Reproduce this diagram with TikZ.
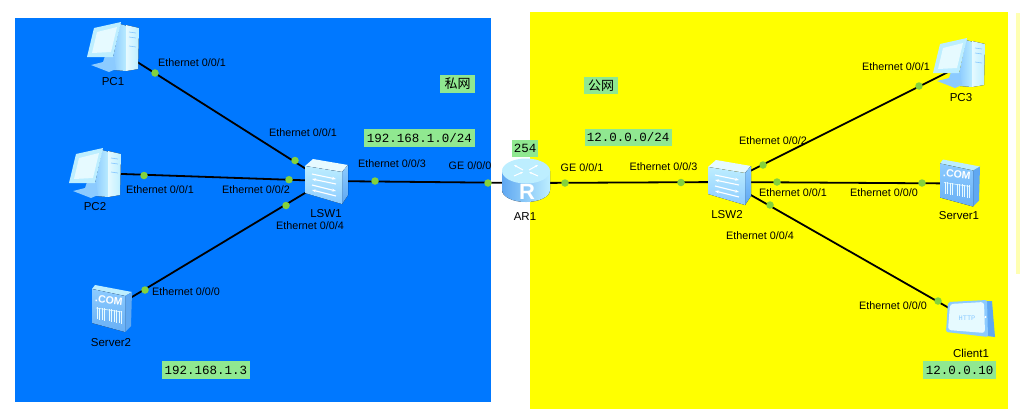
\documentclass[tikz,border=0pt]{standalone}
\usepackage{fontspec}
\setmainfont{Liberation Sans}
\setmonofont{Liberation Mono}
\newfontfamily\cjk{Noto Sans CJK SC}
\usetikzlibrary{arrows.meta}
\definecolor{privblue}{HTML}{0078FF}
\definecolor{pubyellow}{HTML}{FFFF00}
\definecolor{notegreen}{HTML}{90E890}
\definecolor{dotgreen}{HTML}{84D23C}
\definecolor{iconpale}{HTML}{E6FAFF}
\definecolor{iconlight}{HTML}{BDEEFF}
\definecolor{iconmid}{HTML}{8CCBFF}
\definecolor{icondeep}{HTML}{5FA8F2}
\tikzset{
	device/.style={circle,inner sep=0pt,minimum size=12pt},
	link/.style={draw=black,line width=1.8pt},
	portdot/.style={circle,fill=dotgreen,inner sep=0pt,minimum size=7.5pt},
	portlabel/.style={font=\fontsize{10.8}{12}\selectfont,inner sep=0pt},
	devlabel/.style={font=\fontsize{11.5}{13}\selectfont,inner sep=0pt},
	netlabel/.style={fill=notegreen,font=\ttfamily\fontsize{12.5}{14}\selectfont,inner sep=0pt,anchor=center},
	pcicon/.pic={
		\fill[left color=iconmid,right color=iconlight] (8,-22) -- (15,-20) -- (14,25) -- (2,24) -- (1,12) -- cycle;
		\fill[left color=iconpale,right color=iconlight] (14,-21) -- (27,-18) -- (26,23) -- (14,25) -- cycle;
		\draw[iconmid,line width=.7pt] (17,-14) -- (24,-13) (17,-9) -- (24,-8) (17,0) -- (24,1);
		\fill[iconmid] (-21,19) -- (-9,16) -- (-7,10) -- (2,10) -- (4,23) -- (-3,26) -- cycle;
		\fill[iconlight] (-18,-18) -- (9,-24) -- (1,11) -- (-25,11) -- cycle;
		\fill[iconpale] (-15,-14) -- (5,-19) -- (-1,6) -- (-20,7) -- cycle;
	},
	switchicon/.pic={
		\fill[iconpale] (-20,-15) -- (-12,-22) -- (23,-16) -- (17,-9) -- cycle;
		\fill[top color=iconmid,bottom color=icondeep] (17,-9) -- (23,-16) -- (23,14) -- (17,23) -- cycle;
		\fill[top color=iconlight,bottom color=iconmid] (-20,-15) -- (17,-9) -- (17,23) -- (-20,12) -- cycle;
		\draw[white,line width=1.1pt,-{Stealth[length=4pt]}] (-13,-7) -- (11,-2);
		\draw[white,line width=1.1pt,-{Stealth[length=4pt]}] (11,3) -- (-13,-2);
		\draw[white,line width=1.1pt,-{Stealth[length=4pt]}] (-13,4) -- (11,10);
		\draw[white,line width=1.1pt,-{Stealth[length=4pt]}] (11,15) -- (-13,9);
	},
	routericon/.pic={
		\fill[left color=icondeep,right color=iconlight] (-24,-12) -- (-24,7) arc[start angle=180,end angle=0,x radius=24,y radius=12] -- (24,-12) -- cycle;
		\fill[iconlight] (0,-12) ellipse[x radius=24,y radius=12.5];
		\draw[white,line width=1pt,-{Stealth[length=3pt]}] (-3,-13) -- (-12,-18);
		\draw[white,line width=1pt,-{Stealth[length=3pt]}] (3,-13) -- (12,-18);
		\draw[white,line width=1pt,-{Stealth[length=3pt]}] (-12,-7) -- (-3,-11);
		\draw[white,line width=1pt,-{Stealth[length=3pt]}] (12,-7) -- (3,-11);
		\node[white,font=\bfseries\fontsize{22}{22}\selectfont,inner sep=0pt] (letter) at (1,9) {R};
	},
	servericon/.pic={
		\fill[iconlight] (-20,-20) -- (-17,-24) -- (20,-17) -- (13,-13) -- cycle;
		\fill[icondeep] (13,-13) -- (20,-17) -- (19,17) -- (13,23) -- cycle;
		\fill[top color=iconmid,bottom color=icondeep!80!iconmid] (-20,-20) -- (13,-13) -- (13,23) -- (-20,14) -- cycle;
		\node[white,font=\bfseries\fontsize{10.5}{11}\selectfont,inner sep=0pt,rotate=-7] (name) at (-3,-9) {.COM};
		\draw[iconpale,line width=.6pt] (-16,-1) -- (10,3);
		\foreach \x in {-15,-12.5,-10,-7.5,-3,-.5,2,4.5,7,9.5}
			\draw[iconpale,line width=.7pt] (\x,.5+.15*\x) -- (\x,13+.2*\x);
	},
	clienticon/.pic={
		\fill[icondeep] (14,-19) -- (22,-19) -- (25,17) -- (17,16) -- cycle;
		\fill[rounded corners=2pt,iconmid] (-22,-18) -- (17,-20) -- (18,17) -- (-24,12) -- cycle;
		\fill[rounded corners=3pt,iconpale] (-20,-16) -- (14,-18) -- (15,13) -- (-22,10) -- cycle;
		\node[iconmid,font=\ttfamily\fontsize{7}{8}\selectfont,inner sep=0pt] (name) at (-3,-2) {HTTP};
		\fill[white] (15.5,-3) circle[radius=1.2];
	}
}
\begin{document}
\begin{tikzpicture}[x=1pt,y=-1pt]
	\useasboundingbox (0,0) rectangle (1020,413);
	% zones
	\fill[privblue] (14.5,18) rectangle (490.5,402);
	\fill[pubyellow] (529.7,12) rectangle (1007.7,409);
	\fill[pubyellow!30] (1016,13) rectangle (1019.5,274);

	% devices
	\node[device] (PC1) at (112,46) {};
	\node[device] (PC2) at (94,173) {};
	\node[device] (PC3) at (958,62) {};
	\node[device] (Server2) at (112,309) {};
	\node[device] (Server1) at (960,183.5) {};
	\node[device] (Client1) at (970,320) {};
	\node[device] (LSW1) at (325,181) {};
	\node[device] (LSW2) at (728,182) {};
	\node[device] (AR1) at (526,183) {};

	% links
	\draw[link] (PC1) -- (LSW1);
	\draw[link] (PC2) -- (LSW1);
	\draw[link] (Server2) -- (LSW1);
	\draw[link] (LSW1) -- (AR1);
	\draw[link] (AR1) -- (LSW2);
	\draw[link] (LSW2) -- ([yshift=-5pt]PC3.center);
	\draw[link] (LSW2) -- (Server1);
	\draw[link] (LSW2) -- (Client1);

	% port dots
	\node[portdot] (dotA) at (155,73) {};
	\node[portdot] (dotB) at (295,160.5) {};
	\node[portdot] (dotC) at (144,175.5) {};
	\node[portdot] (dotD) at (289,179.7) {};
	\node[portdot] (dotE) at (145,290) {};
	\node[portdot] (dotF) at (286,205.5) {};
	\node[portdot] (dotG) at (375,181) {};
	\node[portdot] (dotH) at (488,183) {};
	\node[portdot] (dotI) at (565,183) {};
	\node[portdot] (dotJ) at (681,182.5) {};
	\node[portdot] (dotK) at (763,165) {};
	\node[portdot] (dotL) at (919,86) {};
	\node[portdot] (dotM) at (777,182) {};
	\node[portdot] (dotN) at (922,183) {};
	\node[portdot] (dotO) at (770,205) {};
	\node[portdot] (dotP) at (938,301) {};

	% icons
	\pic (iconA) at (PC1) {pcicon};
	\pic (iconB) at ([yshift=1pt]PC2.center) {pcicon};
	\pic (iconC) at (PC3) {pcicon};
	\pic (iconD) at (Server2) {servericon};
	\pic (iconE) at (Server1) {servericon};
	\pic (iconF) at (Client1) {clienticon};
	\pic (iconG) at (LSW1) {switchicon};
	\pic (iconH) at (LSW2) {switchicon};
	\pic (iconI) at (AR1) {routericon};

	% device names
	\node[devlabel] (namePC1) at (113,82) {PC1};
	\node[devlabel] (namePC2) at (95,207) {PC2};
	\node[devlabel] (namePC3) at (961,98) {PC3};
	\node[devlabel] (nameS2) at (111,343) {Server2};
	\node[devlabel] (nameS1) at (959,216) {Server1};
	\node[devlabel] (nameC1) at (971,353) {Client1};
	\node[devlabel] (nameSW1) at (326,214) {LSW1};
	\node[devlabel] (nameSW2) at (727,215) {LSW2};
	\node[devlabel] (nameR1) at (525,217) {AR1};

	% port names
	\node[portlabel] (portA) at (192,63) {Ethernet 0/0/1};
	\node[portlabel] (portB) at (303,133) {Ethernet 0/0/1};
	\node[portlabel] (portC) at (160,190) {Ethernet 0/0/1};
	\node[portlabel] (portD) at (256,190) {Ethernet 0/0/2};
	\node[portlabel] (portE) at (186,292) {Ethernet 0/0/0};
	\node[portlabel] (portF) at (310,226) {Ethernet 0/0/4};
	\node[portlabel] (portG) at (392,164) {Ethernet 0/0/3};
	\node[portlabel] (portH) at (470,166) {GE 0/0/0};
	\node[portlabel] (portI) at (582,168) {GE 0/0/1};
	\node[portlabel] (portJ) at (663.5,167) {Ethernet 0/0/3};
	\node[portlabel] (portK) at (773,141) {Ethernet 0/0/2};
	\node[portlabel] (portL) at (896,67) {Ethernet 0/0/1};
	\node[portlabel] (portM) at (793,193) {Ethernet 0/0/1};
	\node[portlabel] (portN) at (884,193) {Ethernet 0/0/0};
	\node[portlabel] (portO) at (760,236) {Ethernet 0/0/4};
	\node[portlabel] (portP) at (893,306) {Ethernet 0/0/0};

	% notes
	\node[netlabel,minimum width=35pt,minimum height=18pt,font=\cjk\fontsize{13}{14}\selectfont] (zonePriv) at (457.5,84) {私网};
	\node[netlabel,minimum width=34pt,minimum height=17pt,font=\cjk\fontsize{13}{14}\selectfont] (zonePub) at (601,85.5) {公网};
	\node[netlabel,minimum width=111pt,minimum height=18pt] (netPriv) at (419.5,138) {192.168.1.0/24};
	\node[netlabel,minimum width=87pt,minimum height=17pt] (netPub) at (628.2,137.5) {12.0.0.0/24};
	\node[netlabel,minimum width=26pt,minimum height=17pt] (gateway) at (525,148.5) {254};
	\node[netlabel,minimum width=88pt,minimum height=18pt] (hostServer) at (206,370) {192.168.1.3};
	\node[netlabel,minimum width=73pt,minimum height=18pt] (hostClient) at (959.5,370) {12.0.0.10};
\end{tikzpicture}
\end{document}
